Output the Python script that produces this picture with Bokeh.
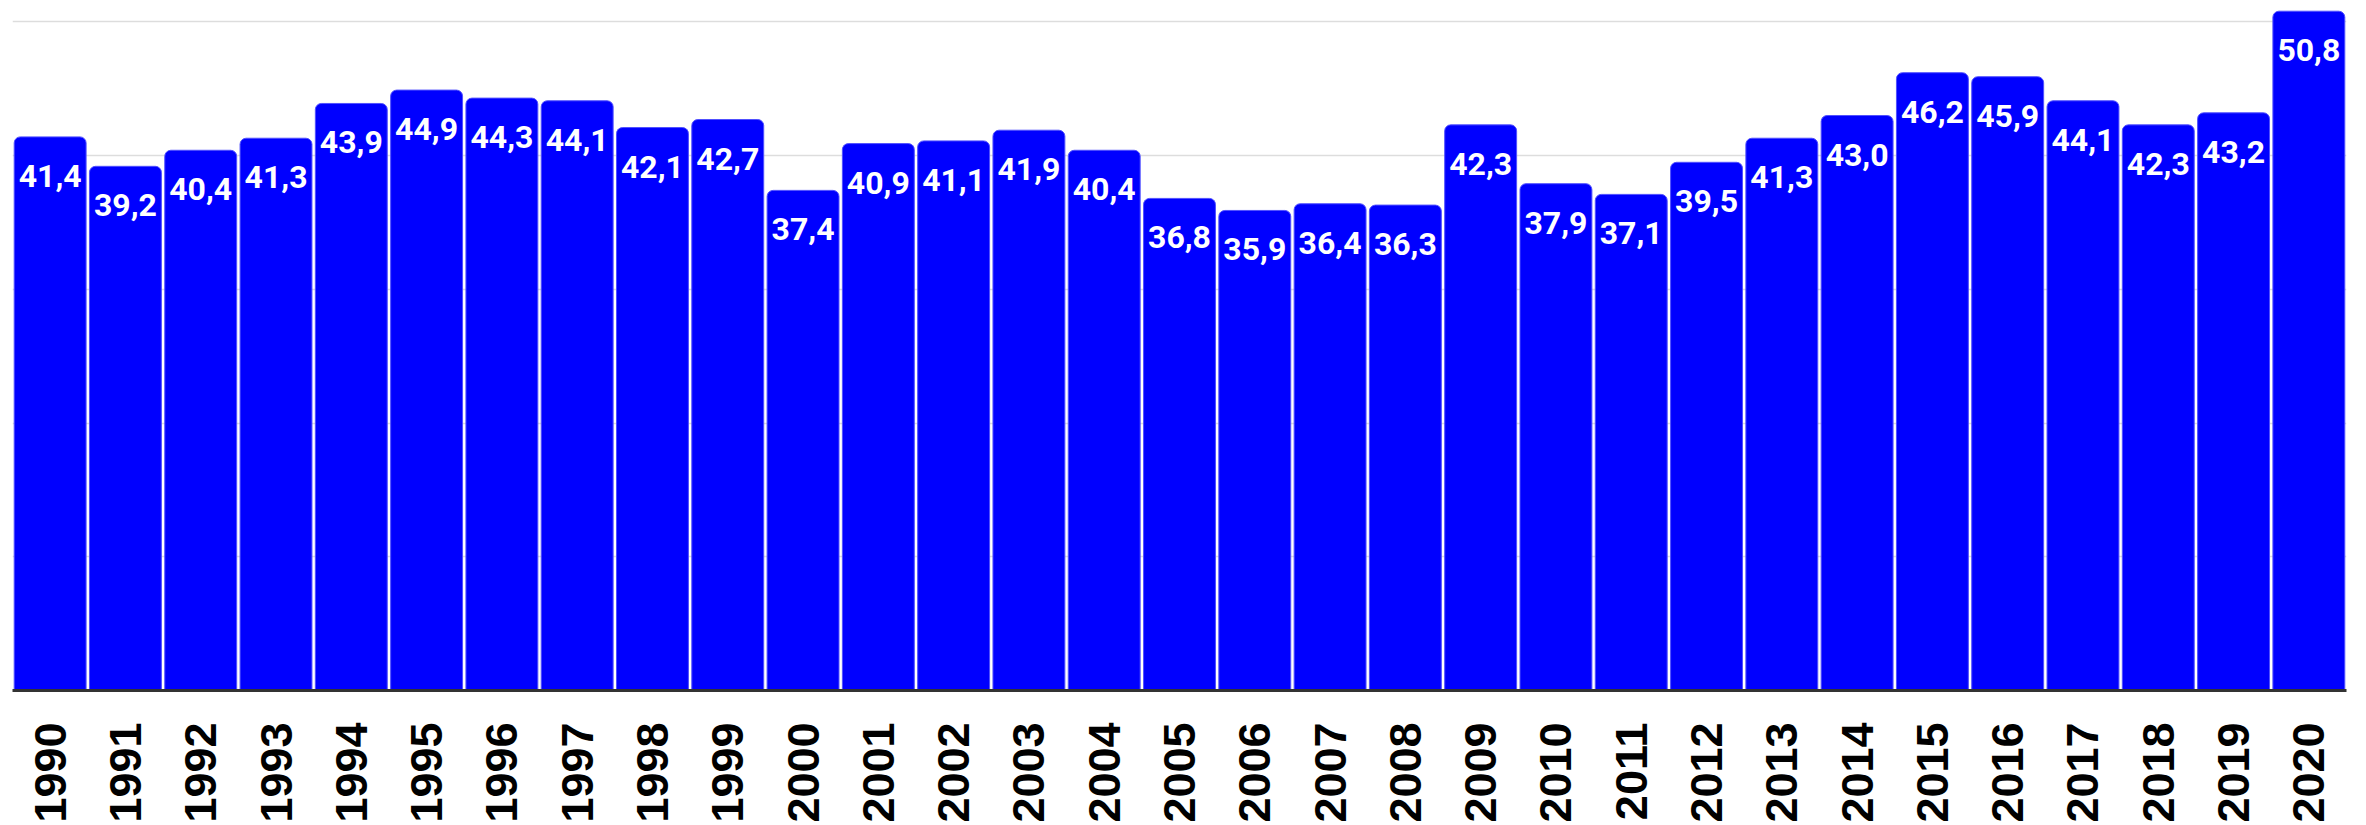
import math
from bokeh.plotting import figure
from bokeh.models import ColumnDataSource, LabelSet, Range1d, FixedTicker
from bokeh.core.properties import value
from bokeh.embed import file_html
from bokeh.resources import INLINE

years = [str(y) for y in range(1990, 2021)]
values = [41.4, 39.2, 40.4, 41.3, 43.9, 44.9, 44.3, 44.1, 42.1, 42.7,
          37.4, 40.9, 41.1, 41.9, 40.4, 36.8, 35.9, 36.4, 36.3, 42.3,
          37.9, 37.1, 39.5, 41.3, 43.0, 46.2, 45.9, 44.1, 42.3, 43.2,
          50.8]
labels = [f"{v:.1f}".replace(".", ",") for v in values]
grid_ticks = [0, 10, 20, 30, 40, 50]

source = ColumnDataSource(dict(year=years, value=values, label=labels))

p = figure(x_range=years, y_range=Range1d(0, 51.6),
           width=2366, height=825, output_backend="svg",
           toolbar_location=None, min_border_left=12, min_border_right=20,
           min_border_top=0, min_border_bottom=0)

p.vbar(x="year", top="value", width=0.955, source=source,
       fill_color="#0000ff", line_color="#5050ff", line_width=1,
       border_radius=(6, 6, 0, 0))

p.add_layout(LabelSet(x="year", y="value", text="label", source=source,
                      text_align="center", text_baseline="middle",
                      y_offset=-39, text_color="white",
                      text_font=value("Roboto"), text_font_style="bold",
                      text_font_size="32px"))

p.yaxis.visible = False
p.ygrid.ticker = FixedTicker(ticks=grid_ticks)
p.ygrid.grid_line_color = "#dddddd"
p.ygrid.grid_line_width = 1.5
p.xgrid.grid_line_color = None

p.xaxis.axis_line_color = "#333333"
p.xaxis.axis_line_width = 3
p.xaxis.major_tick_line_color = None
p.xaxis.minor_tick_line_color = None
p.xaxis.major_label_orientation = math.pi / 2
p.xaxis.major_label_standoff = 26
p.xaxis.major_label_text_font = "Liberation Sans"
p.xaxis.major_label_text_font_style = "bold"
p.xaxis.major_label_text_font_size = "45px"
p.xaxis.major_label_text_color = "black"

p.outline_line_color = None
p.x_range.range_padding = 0

open("out.html", "w").write(file_html(p, INLINE))
